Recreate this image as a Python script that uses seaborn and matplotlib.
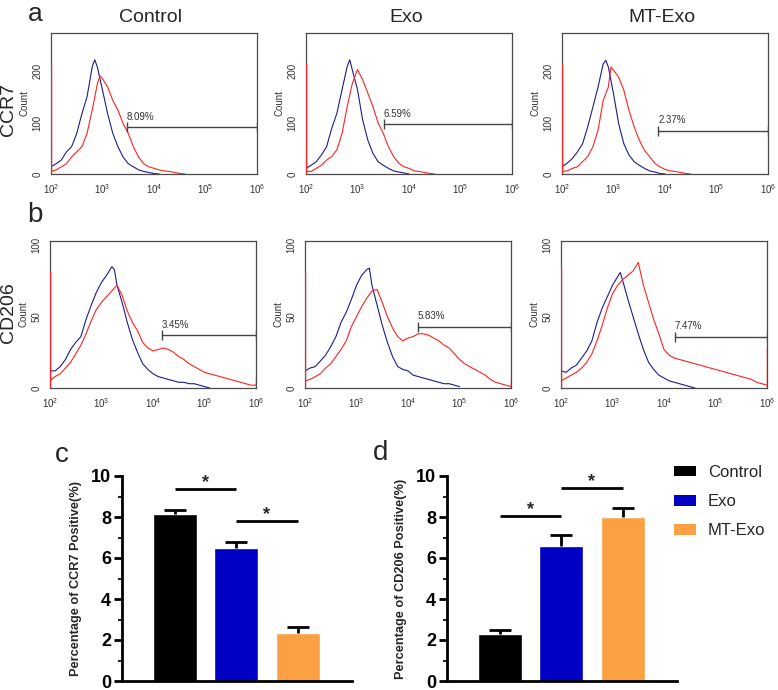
import numpy as np
import pandas as pd
import matplotlib
matplotlib.use("Agg")
import matplotlib.pyplot as plt
import seaborn as sns
from matplotlib.ticker import LogLocator, MultipleLocator, NullFormatter
from matplotlib.patches import Patch

# ---------------- data ----------------
groups = ["Control", "Exo", "MT-Exo"]
bar_colors = ["#000000", "#0000c4", "#fba143"]

ccr7_values = [8.15, 6.47, 2.36]
ccr7_err = [0.20, 0.33, 0.26]
cd206_values = [2.27, 6.60, 8.00]
cd206_err = [0.23, 0.50, 0.45]
ccr7_sig = [(0, 1, 9.37), (1, 2, 7.80)]
cd206_sig = [(0, 1, 8.07), (1, 2, 9.40)]

hist_xticks = [1e2, 1e3, 1e4, 1e5, 1e6]
hist_xticklabels = [r"$10^{2}$", r"$10^{3}$", r"$10^{4}$", r"$10^{5}$", r"$10^{6}$"]

# row a (CCR7): log10 intensity / count
a_ctrl_blue_x = [2.0,2.1,2.2,2.3,2.4,2.5,2.6,2.7,2.8,2.85,2.9,3.0,3.1,3.2,3.3,3.4,3.5,3.6,3.7,3.8,3.9,4.0,4.1]
a_ctrl_blue_y = [14,20,27,43,53,79,117,150,208,222,208,163,117,79,53,33,20,14,8,5,3,1,0]
a_ctrl_red_x = [2.0,2.1,2.2,2.3,2.4,2.5,2.6,2.7,2.8,2.9,2.95,3.0,3.1,3.2,3.3,3.4,3.5,3.6,3.7,3.8,3.9,4.0,4.1,4.2,4.3,4.4,4.5,4.6]
a_ctrl_red_y = [5,8,14,20,33,43,53,79,124,175,191,185,169,143,124,98,79,53,33,20,14,11,8,6,5,3,1,0]

a_exo_blue_x = [2.0,2.1,2.2,2.3,2.4,2.5,2.6,2.7,2.8,2.85,2.9,3.0,3.1,3.2,3.3,3.4,3.5,3.6,3.7,3.8,3.9,4.0]
a_exo_blue_y = [11,17,24,37,53,89,118,164,209,222,202,164,105,66,40,24,17,11,6,4,2,0]
a_exo_red_x = [2.0,2.1,2.2,2.3,2.4,2.5,2.6,2.7,2.8,2.9,3.0,3.1,3.2,3.3,3.4,3.5,3.6,3.7,3.8,3.9,4.0,4.1,4.2,4.3,4.4,4.5]
a_exo_red_y = [5,5,11,17,27,34,47,79,131,176,203,183,157,131,99,79,53,34,21,14,11,6,5,3,1,0]

a_mt_blue_x = [2.0,2.1,2.2,2.3,2.4,2.5,2.6,2.7,2.8,2.85,2.9,3.0,3.1,3.2,3.3,3.4,3.5,3.6,3.7,3.8,3.9,4.0]
a_mt_blue_y = [14,21,30,43,59,92,130,169,214,221,208,156,98,59,37,24,17,11,6,4,1,0]
a_mt_red_x = [2.0,2.1,2.2,2.3,2.4,2.5,2.6,2.7,2.8,2.9,2.95,3.0,3.1,3.2,3.3,3.4,3.5,3.6,3.7,3.8,3.9,4.0,4.1,4.2,4.3,4.4,4.5]
a_mt_red_y = [5,6,11,14,24,34,53,85,143,169,208,202,188,163,124,92,66,46,34,21,14,9,6,5,3,1,0]

# row b (CD206)
b_grid = [2.0,2.1,2.2,2.3,2.4,2.5,2.6,2.7,2.8,2.9,3.0,3.1,3.2,3.3,3.4,3.5,3.6,3.7,3.8,3.9,
          4.0,4.1,4.2,4.3,4.4,4.5,4.6,4.7,4.8,4.9,5.0,5.1,5.2,5.3,5.4,5.5,5.6,5.7,5.8,5.9,6.0]
b_ctrl_blue_x = [2.0,2.1,2.2,2.3,2.4,2.5,2.6,2.7,2.8,2.9,3.0,3.1,3.2,3.25,3.3,3.4,3.5,3.6,3.7,3.8,3.9,4.0,4.1,4.2,4.3,4.4,4.5,4.6,4.7,4.8,4.9,5.0,5.1]
b_ctrl_blue_y = [12,12,15,20,27,32,36,48,58,67,74,79,85,83,72,60,46,34,25,17,13,10,8,7,6,5,4,4,3,3,2,1,0]
b_ctrl_red_y = [5,8,10,14,18,24,30,38,47,55,60,64,68,72,65,54,46,40,32,28,
                26,27,28,27,25,22,20,17,15,13,11,10,9,8,7,6,5,4,3,2,2]

b_exo_blue_x = [2.0,2.1,2.2,2.3,2.4,2.5,2.6,2.7,2.8,2.9,3.0,3.1,3.2,3.25,3.3,3.4,3.5,3.6,3.7,3.8,3.9,4.0,4.1,4.2,4.3,4.4,4.5,4.6,4.7,4.8,4.9,5.0]
b_exo_blue_y = [12,14,15,19,23,29,36,46,53,62,72,79,83,84,72,58,44,32,22,15,13,12,9,8,7,6,5,4,3,3,2,1]
b_exo_red_y = [5,6,8,10,14,17,22,27,33,43,50,57,63,68,69,60,50,42,36,33,
               35,36,38,38,37,35,33,30,28,24,20,17,15,13,11,9,6,4,3,2,1]

b_mt_blue_x = [2.0,2.1,2.2,2.3,2.4,2.5,2.6,2.7,2.8,2.9,3.0,3.1,3.15,3.2,3.3,3.4,3.5,3.6,3.7,3.8,3.9,4.0,4.1,4.2,4.3,4.4,4.5,4.6]
b_mt_blue_y = [12,11,14,16,21,26,33,46,56,64,72,78,81,75,62,50,38,27,18,13,9,7,5,4,3,2,1,0]
b_mt_red_y = [5,7,9,11,14,18,24,33,44,56,66,72,76,79,82,88,72,60,48,38,
              27,23,21,20,19,18,17,16,15,14,13,12,11,10,9,8,7,6,4,3,2]

# edge pile-up spikes (count at 10^2 and at 10^6)
a_spike_left = [213, 215, 213]
b_spike_left = [82, 81, 85]
b_spike_right = [8, 6, 29]

# gates: start of marker (intensity), height (count), label
a_gate_start = [3.0e3, 3.2e3, 7.4e3]
a_gate_y = [91, 97, 84]
a_gate_label = ["8.09%", "6.59%", "2.37%"]
b_gate_start = [1.5e4, 1.55e4, 1.6e4]
b_gate_y = [37, 43, 36]
b_gate_label = ["3.45%", "5.83%", "7.47%"]

# ---------------- style ----------------
sns.set_theme(style="white")
plt.rcParams["font.family"] = ["Liberation Sans", "DejaVu Sans"]
plt.rcParams["mathtext.fontset"] = "custom"
plt.rcParams["mathtext.rm"] = "Liberation Sans"
plt.rcParams["mathtext.it"] = "Liberation Sans"

W, H = 778, 690
fig = plt.figure(figsize=(W / 100, H / 100), dpi=100)


def rect(l, t, r, b):
    return [l / W, 1 - b / H, (r - l) / W, (b - t) / H]


def ftext(x, y, s, **kw):
    fig.text(x / W, 1 - y / H, s, **kw)


BLUE = "#1d1d8c"
RED = "#ff2222"
FRAME = "#4a4a4a"


def hist_panel(ax, curves, spike_l, spike_r, ymax, ymaj, ymin, gstart, gy, glab):
    ax.set_xscale("log")
    for xs, ys, col in curves:
        df = pd.DataFrame({"x": np.power(10.0, xs), "y": ys})
        sns.lineplot(data=df, x="x", y="y", ax=ax, color=col, lw=0.8,
                     estimator=None, sort=False)
    ax.vlines(1e2, 0, spike_l, color=RED, lw=1.0, zorder=3)
    if spike_r is not None:
        ax.vlines(1e6, 0, spike_r, color=RED, lw=1.0, zorder=3)
    ax.plot([gstart, 1e6], [gy, gy], color="#444444", lw=1.0)
    ax.plot([gstart, 1e6], [gy, gy], ls="none", marker="|", ms=7, mew=1.0,
            color="#444444")
    ax.annotate(glab, (gstart, gy), xytext=(0, 4), textcoords="offset points",
                ha="left", va="bottom", fontsize=7, color="#333333")
    ax.set_xlim(1e2, 1e6)
    ax.set_ylim(0, ymax)
    ax.set_xticks(hist_xticks)
    ax.set_xticklabels(hist_xticklabels)
    ax.xaxis.set_minor_locator(LogLocator(base=10, subs=np.arange(2, 10)))
    ax.xaxis.set_minor_formatter(NullFormatter())
    ax.yaxis.set_major_locator(MultipleLocator(ymaj))
    ax.yaxis.set_minor_locator(MultipleLocator(ymin))
    ax.tick_params(axis="both", which="both", direction="out", colors=FRAME,
                   labelcolor="#333333", labelsize=7, width=0.8)
    ax.tick_params(axis="both", which="major", length=4, pad=2)
    ax.tick_params(axis="both", which="minor", length=2)
    for lab in ax.get_yticklabels():
        lab.set_rotation(90)
        lab.set_va("center")
    for sp in ax.spines.values():
        sp.set_visible(True)
        sp.set_color(FRAME)
        sp.set_linewidth(0.9)
    ax.set_xlabel("")
    ax.set_ylabel("Count", fontsize=7, color="#333333")
    ax.yaxis.set_label_coords(-0.105, 0.5)


col_lr = [(51, 257), (306, 512), (562, 768)]
a_curves = [
    [(a_ctrl_blue_x, a_ctrl_blue_y, BLUE), (a_ctrl_red_x, a_ctrl_red_y, RED)],
    [(a_exo_blue_x, a_exo_blue_y, BLUE), (a_exo_red_x, a_exo_red_y, RED)],
    [(a_mt_blue_x, a_mt_blue_y, BLUE), (a_mt_red_x, a_mt_red_y, RED)],
]
b_curves = [
    [(b_ctrl_blue_x, b_ctrl_blue_y, BLUE), (b_grid, b_ctrl_red_y, RED)],
    [(b_exo_blue_x, b_exo_blue_y, BLUE), (b_grid, b_exo_red_y, RED)],
    [(b_mt_blue_x, b_mt_blue_y, BLUE), (b_grid, b_mt_red_y, RED)],
]

for i, (l, r) in enumerate(col_lr):
    axa = fig.add_axes(rect(l, 33, r, 174))
    hist_panel(axa, a_curves[i], a_spike_left[i], None, 274, 100, 20,
               a_gate_start[i], a_gate_y[i], a_gate_label[i])
    ftext((l + r) / 2 - 3, 18, groups[i], fontsize=14, ha="center", va="center")
    axb = fig.add_axes(rect(l - 1, 241, r - 1, 388))
    hist_panel(axb, b_curves[i], b_spike_left[i], b_spike_right[i], 103, 50, 10,
               b_gate_start[i], b_gate_y[i], b_gate_label[i])

ftext(9, 109, "CCR7", fontsize=14, rotation=90, ha="center", va="center")
ftext(9, 313, "CD206", fontsize=14, rotation=90, ha="center", va="center")
ftext(35, 21, "a", fontsize=19, ha="center", va="baseline")
ftext(35, 222, "b", fontsize=20, ha="center", va="baseline")
ftext(62, 462, "c", fontsize=20, ha="center", va="baseline")
ftext(381, 460, "d", fontsize=20, ha="center", va="baseline")


def bar_panel(ax, values, errs, sig, ylabel):
    df = pd.DataFrame({"group": groups, "value": values})
    sns.barplot(data=df, x="group", y="value", hue="group", order=groups,
                hue_order=groups, palette=bar_colors, saturation=1, width=0.72,
                errorbar=None, legend=False, ax=ax)
    xs = np.arange(len(groups))
    tops = np.array(values) + np.array(errs)
    ax.vlines(xs, values, tops, color="black", lw=2, zorder=3)
    ax.hlines(tops, xs - 0.18, xs + 0.18, color="black", lw=2, zorder=3)
    for i, j, yv in sig:
        ax.plot([i, j], [yv, yv], color="black", lw=2, solid_capstyle="butt")
        ax.text((i + j) / 2, yv - 0.1, "*", ha="center", va="bottom",
                fontsize=13, fontweight="bold")
    ax.set_xlim(-0.87, 2.89)
    ax.set_ylim(0, 10)
    ax.yaxis.set_major_locator(MultipleLocator(2))
    ax.yaxis.set_minor_locator(MultipleLocator(1))
    ax.set_xticks([])
    ax.set_xlabel("")
    for s in ["top", "right"]:
        ax.spines[s].set_visible(False)
    for s in ["left", "bottom"]:
        ax.spines[s].set_linewidth(2)
        ax.spines[s].set_color("black")
    ax.tick_params(axis="y", which="major", direction="out", length=6, width=2,
                   labelsize=13, pad=2, colors="black", left=True)
    ax.tick_params(axis="y", which="minor", direction="out", length=3, width=1.5,
                   left=True)
    for lab in ax.get_yticklabels():
        lab.set_fontweight("bold")
    ax.set_ylabel(ylabel, fontsize=9.2, fontweight="bold")
    ax.yaxis.set_label_coords(-0.174, 0.5)


axc = fig.add_axes(rect(122, 476, 352, 681))
bar_panel(axc, ccr7_values, ccr7_err, ccr7_sig, "Percentage of CCR7 Positive(%)")
axd = fig.add_axes(rect(447, 476, 677, 681))
bar_panel(axd, cd206_values, cd206_err, cd206_sig, "Percentage of CD206 Positive(%)")

handles = [Patch(facecolor=c, edgecolor="none") for c in bar_colors]
fig.legend(handles, groups, loc="upper left",
           bbox_to_anchor=(674 / W, 1 - 465 / H), frameon=False, fontsize=12,
           handlelength=1.32, handleheight=0.6, handletextpad=0.7,
           labelspacing=0.85, borderpad=0, borderaxespad=0)

fig.savefig("out.png", dpi=100)
